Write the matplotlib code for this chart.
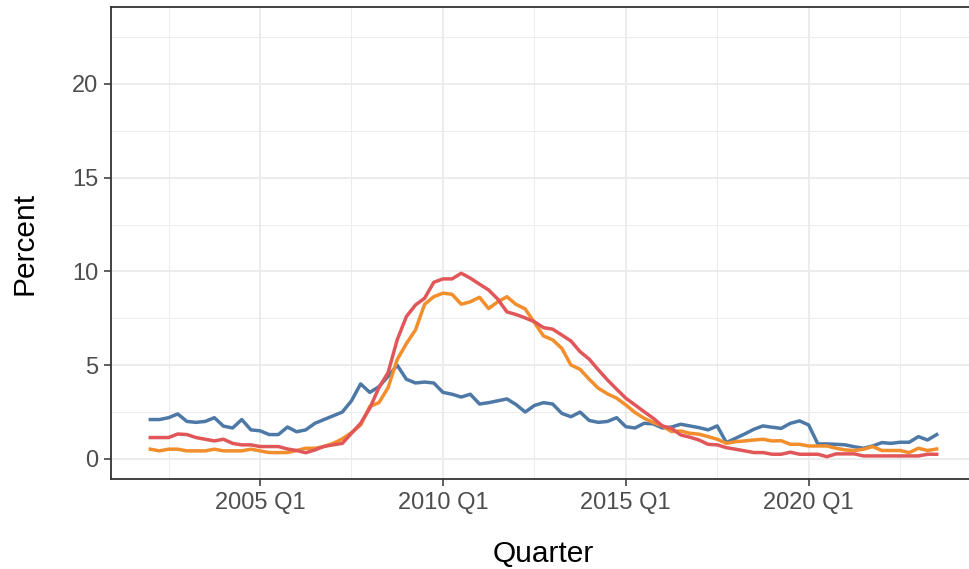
"""
Quarterly percent series, three lines, ggplot theme_bw look
"""
import numpy as np
import matplotlib.pyplot as plt
from matplotlib.ticker import FixedLocator

plt.rcParams['font.family'] = ['Liberation Sans', 'DejaVu Sans']

# quarters 2002 Q1 .. 2023 Q3
start_year = 2002
n_quarters = 87

blue = [2.1, 2.1, 2.2, 2.4, 2.0, 1.95, 2.0, 2.2, 1.75, 1.65,
        2.1, 1.55, 1.5, 1.3, 1.3, 1.7, 1.45, 1.55, 1.9, 2.1,
        2.3, 2.5, 3.1, 4.0, 3.55, 3.85, 4.4, 5.0, 4.25, 4.05,
        4.1, 4.05, 3.55, 3.45, 3.3, 3.45, 2.93, 3.0, 3.1, 3.2,
        2.9, 2.5, 2.85, 3.0, 2.93, 2.43, 2.25, 2.5, 2.05, 1.95,
        2.0, 2.2, 1.72, 1.65, 1.9, 1.87, 1.65, 1.7, 1.85, 1.76,
        1.67, 1.55, 1.76, 0.87, 1.1, 1.33, 1.58, 1.76, 1.69, 1.63,
        1.9, 2.03, 1.81, 0.8, 0.8, 0.78, 0.75, 0.65, 0.57, 0.69,
        0.87, 0.83, 0.89, 0.89, 1.19, 1.01, 1.3]

orange = [0.52, 0.43, 0.52, 0.52, 0.43, 0.43, 0.43, 0.52, 0.43, 0.43,
          0.43, 0.52, 0.43, 0.34, 0.34, 0.34, 0.45, 0.57, 0.57, 0.66,
          0.83, 1.07, 1.4, 1.81, 2.8, 3.0, 3.8, 5.3, 6.15, 6.88,
          8.25, 8.65, 8.84, 8.78, 8.25, 8.38, 8.62, 8.02, 8.38, 8.65,
          8.24, 8.0, 7.28, 6.56, 6.35, 5.9, 5.01, 4.78, 4.25, 3.77,
          3.47, 3.24, 2.88, 2.48, 2.17, 1.94, 1.76, 1.46, 1.49, 1.37,
          1.32, 1.19, 1.05, 0.83, 0.92, 0.96, 1.01, 1.05, 0.96, 0.97,
          0.78, 0.78, 0.69, 0.69, 0.69, 0.57, 0.48, 0.45, 0.52, 0.66,
          0.45, 0.45, 0.45, 0.34, 0.57, 0.45, 0.53]

red = [1.14, 1.14, 1.14, 1.33, 1.3, 1.14, 1.05, 0.96, 1.05, 0.83,
       0.75, 0.75, 0.66, 0.66, 0.66, 0.53, 0.45, 0.33, 0.48, 0.67,
       0.75, 0.83, 1.37, 1.9, 2.7, 3.8, 4.6, 6.35, 7.59, 8.21,
       8.57, 9.42, 9.6, 9.6, 9.9, 9.64, 9.32, 9.01, 8.52, 7.84,
       7.7, 7.52, 7.32, 7.0, 6.92, 6.61, 6.29, 5.72, 5.32, 4.75,
       4.21, 3.72, 3.24, 2.88, 2.52, 2.17, 1.76, 1.63, 1.28, 1.16,
       1.01, 0.78, 0.75, 0.6, 0.52, 0.43, 0.34, 0.34, 0.25, 0.25,
       0.36, 0.25, 0.25, 0.25, 0.12, 0.27, 0.27, 0.27, 0.16, 0.16,
       0.16, 0.16, 0.16, 0.16, 0.16, 0.25, 0.25]

x_ticks = [2005, 2010, 2015, 2020]
x_labels = ['2005 Q1', '2010 Q1', '2015 Q1', '2020 Q1']
y_ticks = [0, 5, 10, 15, 20]

x = start_year + np.arange(n_quarters) / 4.0

fig = plt.figure(figsize=(9.7, 5.69), dpi=100)
ax = fig.add_axes([111/970, 90/569, 865/970, 472/569])

lw = 2.5
ax.plot(x, blue, color='#4E79A7', lw=lw, solid_joinstyle='round')
ax.plot(x, orange, color='#F28E2B', lw=lw, solid_joinstyle='round')
ax.plot(x, red, color='#E15759', lw=lw, solid_joinstyle='round')

ax.set_xlim(2000.925, 2024.575)
ax.set_ylim(-1.07, 24.1)

ax.xaxis.set_major_locator(FixedLocator(x_ticks))
ax.set_xticklabels(x_labels)
ax.xaxis.set_minor_locator(FixedLocator([2002.5, 2007.5, 2012.5, 2017.5, 2022.5]))
ax.yaxis.set_major_locator(FixedLocator(y_ticks))
ax.yaxis.set_minor_locator(FixedLocator([2.5, 7.5, 12.5, 17.5, 22.5]))

ax.grid(which='major', color='#EBEBEB', lw=1.3)
ax.grid(which='minor', color='#EBEBEB', lw=0.65)
ax.set_axisbelow(True)

for s in ax.spines.values():
    s.set_color('#333333')
    s.set_linewidth(1.3)

ax.tick_params(which='major', length=5, width=1.1, color='#333333',
               labelcolor='#4D4D4D', labelsize=17, pad=4)
ax.tick_params(which='minor', length=0)

ax.set_xlabel('Quarter', fontsize=21.5, color='black', labelpad=19)
ax.set_ylabel('Percent', fontsize=21.5, color='black', labelpad=24)

fig.savefig('out.png', dpi=100)
